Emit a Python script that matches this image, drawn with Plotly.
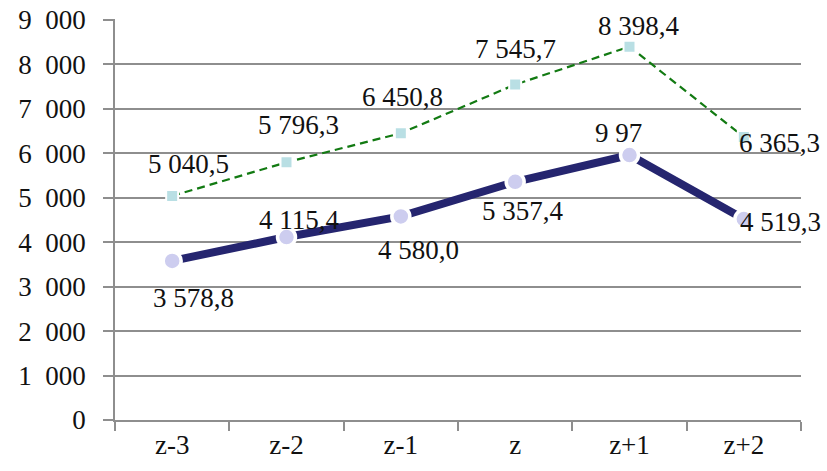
import plotly.graph_objects as go

categories = ["z-3", "z-2", "z-1", "z", "z+1", "z+2"]
forecast_values = [5040.5, 5796.3, 6450.8, 7545.7, 8398.4, 6365.3]
actual_values = [3578.8, 4115.4, 4580.0, 5357.4, 5960.0, 4519.3]
forecast_labels = ["5 040,5", "5 796,3", "6 450,8", "7 545,7", "8 398,4", "6 365,3"]
actual_labels = ["3 578,8", "4 115,4", "4 580,0", "5 357,4", "9 97", "4 519,3"]
y_tick_values = [0, 1000, 2000, 3000, 4000, 5000, 6000, 7000, 8000, 9000]
y_tick_labels = ["0", "1\u2002000", "2\u2002000", "3\u2002000", "4\u2002000",
                 "5\u2002000", "6\u2002000", "7\u2002000", "8\u2002000", "9\u2002000"]

FONT = "Liberation Serif, Times New Roman, serif"

fig = go.Figure()
fig.add_trace(go.Scatter(
    x=categories, y=forecast_values, mode="lines+markers",
    line=dict(color="#127A12", width=2.2, dash="8px,5px"),
    marker=dict(symbol="square", size=12, color="#B9DFE4",
                line=dict(color="white", width=2)),
    showlegend=False, hoverinfo="skip"))
fig.add_trace(go.Scatter(
    x=categories, y=actual_values, mode="lines+markers",
    line=dict(color="#25256F", width=8),
    marker=dict(symbol="circle", size=18, color="#CDCDEF",
                line=dict(color="white", width=3.5)),
    showlegend=False, hoverinfo="skip"))

# label offsets (pixels): (xshift, yshift)
f_off = [(16, 32), (12, 37), (2, 36), (0, 36), (9, 21), (36, -6)]
a_off = [(21, -37), (12, 17), (18, -34), (8, -29), (-11, 22), (37, -3)]

for cat, v, t, (dx, dy) in zip(categories, forecast_values, forecast_labels, f_off):
    fig.add_annotation(x=cat, y=v, text=t, showarrow=False, xshift=dx, yshift=dy,
                       font=dict(family=FONT, size=27, color="#111111"))
for cat, v, t, (dx, dy) in zip(categories, actual_values, actual_labels, a_off):
    fig.add_annotation(x=cat, y=v, text=t, showarrow=False, xshift=dx, yshift=dy,
                       font=dict(family=FONT, size=27, color="#111111"))

fig.update_layout(
    width=827, height=471,
    margin=dict(l=115, r=26, t=19, b=51, autoexpand=False),
    paper_bgcolor="white", plot_bgcolor="white",
    font=dict(family=FONT, size=27, color="#111111"),
    xaxis=dict(type="category", tickson="boundaries", ticks="outside", ticklen=9,
               tickcolor="#8E8E8E", tickwidth=1.5, showline=True, linecolor="#8E8E8E",
               linewidth=1.5, showgrid=False, range=[-0.5, 5.5], automargin=False,
               tickfont=dict(family=FONT, size=27)),
    yaxis=dict(range=[0, 9020], tickvals=y_tick_values, ticktext=y_tick_labels,
               ticks="outside", ticklen=10, tickcolor="#8E8E8E", tickwidth=1.5,
               ticklabelstandoff=12, ticklabeloverflow="allow",
               showline=True, linecolor="#8E8E8E", linewidth=1.5, automargin=False,
               showgrid=True, gridcolor="#8E8E8E", gridwidth=1.5,
               zeroline=False, tickfont=dict(family=FONT, size=27)),
)

# remove the default 8px page margin so the 827x471 figure fills the window
fig.write_html("out.html", config={"displayModeBar": False},
               post_script="document.body.style.margin='0';document.body.style.overflow='hidden';")
